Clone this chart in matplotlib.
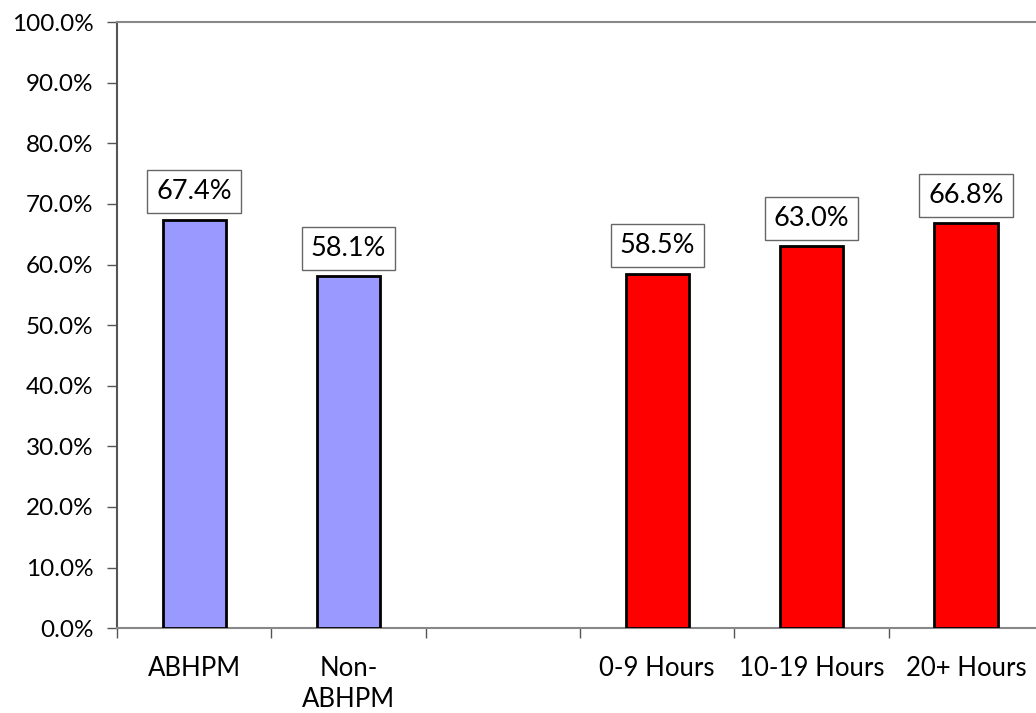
import numpy as np
import matplotlib
matplotlib.use('Agg')
import matplotlib.pyplot as plt

plt.rcParams['font.family'] = ['Lato', 'DejaVu Sans']

# blank slot between the two groups
categories = ['ABHPM', 'Non-\nABHPM', '', '0-9 Hours', '10-19 Hours', '20+ Hours']
values = [67.4, 58.1, None, 58.5, 63.0, 66.8]
colors = ['#9999FF', '#9999FF', None, '#FF0000', '#FF0000', '#FF0000']

fig = plt.figure(figsize=(10.36, 7.13), dpi=100)
ax = fig.add_axes([0.1129, 0.119, 0.894, 0.850])

x = np.arange(len(categories))
for i, v in enumerate(values):
    if v is None:
        continue
    ax.bar(x[i], v, width=0.41, color=colors[i], edgecolor='black', linewidth=2.0, zorder=3)
    ax.annotate('%.1f%%' % v, (x[i], v), xytext=(0, 11), textcoords='offset points',
                ha='center', va='bottom', fontsize=19.5,
                bbox=dict(boxstyle='square,pad=0.33', fc='white', ec='#666666', lw=1.0))

ax.set_xlim(-0.5, len(categories) - 0.5)
ax.set_ylim(0, 100)
ax.set_yticks(np.arange(0, 101, 10))
ax.set_yticklabels(['%.1f%%' % t for t in np.arange(0, 101, 10)])

# ticks on the slot boundaries, labels at the slot centres
ax.set_xticks(np.arange(len(categories) + 1) - 0.5)
ax.set_xticklabels([])
ax.set_xticks(x, minor=True)
ax.set_xticklabels(categories, minor=True, fontsize=18.5, linespacing=1.3)
ax.tick_params(axis='x', which='minor', length=0, pad=20)
ax.tick_params(axis='x', which='major', length=7, color='#555555', width=1.0)
ax.tick_params(axis='y', length=7, color='#555555', width=1.0, pad=10, labelsize=17.5)

ax.spines['left'].set_color('#555555')
ax.spines['left'].set_linewidth(1.5)
ax.spines['top'].set_color('#888888')
ax.spines['top'].set_linewidth(1.5)
ax.spines['bottom'].set_color('#888888')
ax.spines['bottom'].set_linewidth(1.5)
ax.spines['right'].set_visible(False)

fig.savefig('out.png', dpi=100)
